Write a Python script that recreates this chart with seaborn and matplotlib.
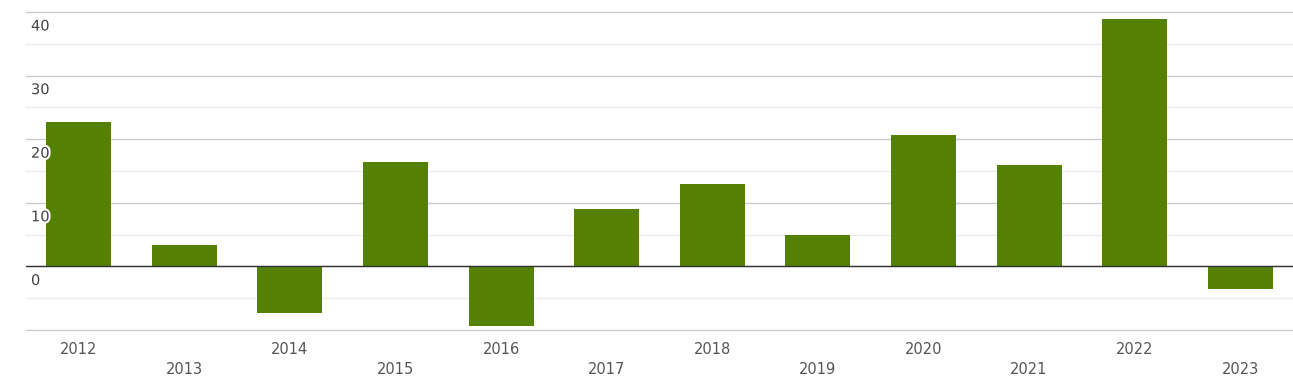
import matplotlib
matplotlib.use("Agg")
import matplotlib.pyplot as plt
import matplotlib.transforms as mtransforms
import matplotlib.patheffects as pe
import seaborn as sns
import pandas as pd

years = ["2012", "2013", "2014", "2015", "2016", "2017", "2018", "2019", "2020", "2021", "2022", "2023"]
values = [22.7, 3.3, -7.4, 16.4, -9.4, 9.1, 12.9, 5.0, 20.6, 15.9, 38.9, -3.5]
major_ticks = [0, 10, 20, 30, 40]
minor_ticks = [-5, 5, 15, 25, 35]
y_min, y_max = -10, 40

sns.set_theme(style="white")
plt.rcParams['font.family'] = ['DejaVu Sans']

df = pd.DataFrame({"year": years, "value": values})

fig = plt.figure(figsize=(12.93, 3.84), dpi=100)
ax = fig.add_axes([26/1293, 1 - 330/384, 1 - 26/1293, (330 - 12)/384])

for t in major_ticks + [y_min]:
    ax.axhline(t, color="#cccccc", lw=1, zorder=0, clip_on=False)
for t in minor_ticks:
    ax.axhline(t, color="#ececec", lw=1, zorder=0)

sns.barplot(data=df, x="year", y="value", color="#548102", saturation=1,
            width=0.615, ax=ax, zorder=2, linewidth=0)
ax.axhline(0, color="#333333", lw=1, zorder=3)

ax.set_ylim(y_min, y_max)
ax.set_xlim(-0.5, len(years) - 0.5)
ax.set_xlabel("")
ax.set_ylabel("")
ax.set_xticks([])
ax.set_yticks([])
for s in ax.spines.values():
    s.set_visible(False)

ytrans = mtransforms.blended_transform_factory(ax.transAxes, ax.transData)
off = mtransforms.ScaledTranslation(5/100, -14/100, fig.dpi_scale_trans)
for t in major_ticks:
    ax.text(0, t, str(t), transform=ytrans + off, ha="left", va="center",
            fontsize=10.5, color="#444444", zorder=5,
            path_effects=[pe.withStroke(linewidth=3, foreground="white")])

xtrans = mtransforms.blended_transform_factory(ax.transData, ax.transAxes)
for i, yr in enumerate(years):
    dy = -19 if i % 2 == 0 else -39
    o = mtransforms.ScaledTranslation(0, dy/100, fig.dpi_scale_trans)
    ax.text(i, 0, yr, transform=xtrans + o, ha="center", va="center",
            fontsize=10.5, color="#555555")

fig.savefig("out.png", dpi=100)
